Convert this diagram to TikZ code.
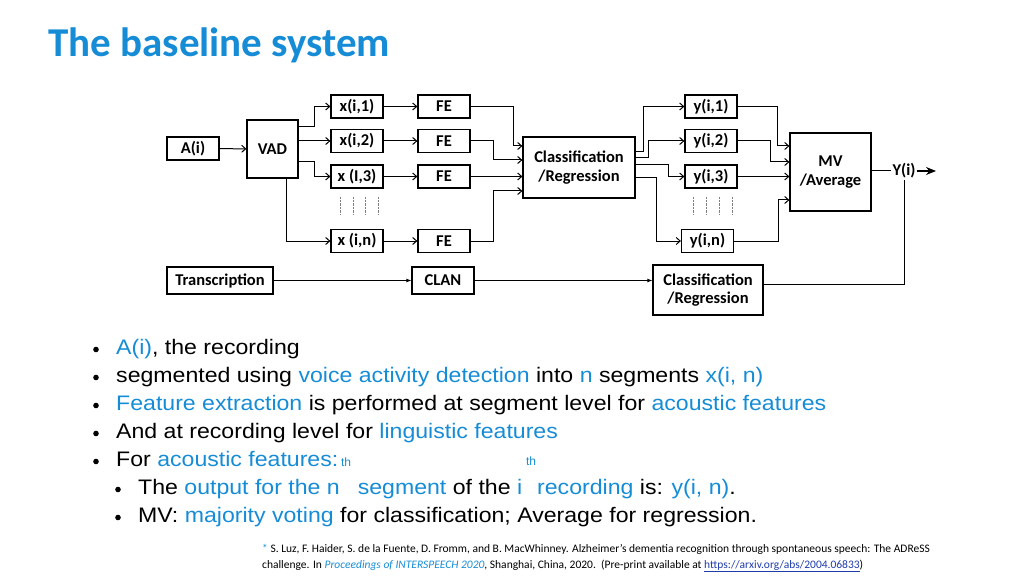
\documentclass[tikz,border=0pt]{standalone}
\usepackage{fontspec}
\setmainfont{Liberation Sans}
\newfontfamily\calfont{Carlito}
\newfontfamily\bulfont[FakeStretch=1.1]{Liberation Sans}
\usepackage{xcolor}
\usepackage{tikz}
\usetikzlibrary{arrows.meta,positioning,calc}
\definecolor{slideblue}{RGB}{22,140,214}
\definecolor{linkblue}{RGB}{30,60,170}
\newcommand{\hl}[1]{\textcolor{slideblue}{#1}}

\begin{document}
\begin{tikzpicture}[x=1pt,y=-1pt,
    blk/.style={draw, line width=1.2pt, inner sep=1pt, align=center,
      font=\calfont\bfseries\fontsize{16.5}{18.5}\selectfont},
    seg/.style={blk, minimum width=52pt, minimum height=23pt},
    arr/.style={line width=1pt, -{Straight Barb[length=4pt,width=7pt]}},
    farr/.style={line width=1pt, -{Latex[length=5pt,width=4pt]}},
    ln/.style={line width=1pt},
    bul/.style={anchor=base west, inner sep=0pt, font=\bulfont\fontsize{21}{24}\selectfont}]

    \useasboundingbox (0,0) rectangle (1024,577);

    % Title
    \node[anchor=base west, inner sep=0pt, text=slideblue,
      font=\calfont\bfseries\fontsize{41}{45}\selectfont] (title) at (48,57) {The baseline system};

    % Input and VAD
    \node[blk, minimum width=52pt, minimum height=23pt] (ai) at (193,148.5) {A(i)};
    \node[blk, minimum width=51pt, minimum height=58pt] (vad) at (272.5,149) {VAD};
    \draw[arr] (ai) -- (vad);

    % Segments and feature extraction
    \foreach \n/\t/\y in {1/{x(i,1)}/106.5, 2/{x(i,2)}/141, 3/{x (I,3)}/176.5, n/{x (i,n)}/241}{
        \node[seg] (x\n) at (357,\y) {\t};
        \node[seg] (fe\n) at (444,\y) {FE};
        \draw[arr] (x\n) -- (fe\n);
    }
    \foreach \x in {340,353,365,378} \draw[densely dotted, gray] (\x,197) -- (\x,215);

    \draw[arr] ([yshift=22pt]vad.east) -- ++(16,0) |- (x1);
    \draw[arr] (x2 -| vad.east) -- (x2);
    \draw[arr] ([yshift=-13pt]vad.east) -- ++(16,0) |- (x3);
    \draw[arr] ([xshift=13.5pt]vad.south) |- (xn);

    % Classifier
    \node[blk, minimum width=112pt, minimum height=61pt] (cr) at (579,167.5) {Classification\\/Regression};
    \draw[arr] (fe1.east) -- ++(43,0) |- ([yshift=21.5pt]cr.west);
    \draw[arr] (fe2.east) -- ++(23,0) |- ([yshift=7.5pt]cr.west);
    \draw[arr] (fe3.east) -- (fe3.east -| cr.west);
    \draw[arr] (fen.east) -- ++(23,0) |- ([yshift=-23.5pt]cr.west);

    % Segment outputs
    \foreach \n/\t/\x/\y in {1/{y(i,1)}/711/106.5, 2/{y(i,2)}/711/141, 3/{y(i,3)}/711/176.5, n/{y(i,n)}/707.5/241}
        \node[seg] (y\n) at (\x,\y) {\t};
    \foreach \x in {693,706,719,732} \draw[densely dotted, gray] (\x,197) -- (\x,215);

    \draw[arr] ([yshift=15.5pt]cr.east) -- ++(8,0) |- (y1);
    \draw[arr] ([yshift=9.5pt]cr.east) -- ++(13,0) |- (y2);
    \draw[arr] ([yshift=2.5pt]cr.east) -- ++(33,0) |- (y3);
    \draw[arr] ([yshift=-10.5pt]cr.east) -- ++(21,0) |- (yn);

    % MV / Average
    \node[blk, minimum width=81pt, minimum height=78pt] (mv) at (830.5,172) {MV\\/Average};
    \draw[arr] (y1.east) -- ++(40,0) |- ([yshift=26pt]mv.west);
    \draw[arr] (y2.east) -- ++(33,0) |- ([yshift=10pt]mv.west);
    \draw[arr] (y3.east) -- (y3.east -| mv.west);
    \draw[arr] (yn.east) -- ++(44,0) |- ([yshift=-28pt]mv.west);

    \node[inner sep=1pt, font=\calfont\bfseries\fontsize{16.5}{18}\selectfont] (yout) at (904,171) {Y(i)};
    \coordinate (yend) at (936,171);
    \draw[ln] (mv.east |- yout) -- (yout.west);
    \draw[line width=1.2pt, -{Stealth[length=10pt,width=8pt]}] (yout.east) -- (yend);

    % Linguistic branch
    \node[blk, minimum width=106pt, minimum height=27pt] (trans) at (220,280.5) {Transcription};
    \node[blk, minimum width=62pt, minimum height=27pt] (clan) at (443,280.5) {CLAN};
    \node[blk, minimum width=110pt, minimum height=50pt] (cr2) at (708,290) {Classification\\/Regression};
    \draw[farr] (trans) -- (clan);
    \draw[farr] (clan.east) -- (clan.east -| cr2.west);
    \draw[ln] ([yshift=6pt]cr2.east) -| (yout.south);

    % Bullets
    \node[bul] (b1) at (116,354) {\hl{A(i)}, the recording};
    \node[bul] (b2) at (116,382) {segmented using \hl{voice activity detection} into \hl{n} segments \hl{x(i, n)}};
    \node[bul] (b3) at (116,410) {\hl{Feature extraction} is performed at segment level for \hl{acoustic features}};
    \node[bul] (b4) at (116,438) {And at recording level for \hl{linguistic features}};
    \node[bul] (b5) at (116,466) {For \hl{acoustic features:}};
    \node[bul] (b6) at (138,494) {The \hl{output for the n\hspace{18pt}segment} of the \hl{i\hspace{15pt}recording} is: \hl{y(i, n)}.};
    \node[bul] (b7) at (138,522) {MV: \hl{majority voting} for classification; Average for regression.};
    \foreach \b in {b1,b2,b3,b4,b5} \fill ([xshift=-20pt,yshift=4.5pt]\b.base west) circle (2.8pt);
    \foreach \b in {b6,b7} \fill ([xshift=-20pt,yshift=4.5pt]\b.base west) circle (2.8pt);
    \node[font=\fontsize{12}{13}\selectfont, text=slideblue, inner sep=0pt] (th1) at (346,462) {th};
    \node[font=\fontsize{12}{13}\selectfont, text=slideblue, inner sep=0pt] (th2) at (531,461) {th};

    % Reference
    \node[anchor=base west, inner sep=0pt, font=\calfont\fontsize{11.5}{14}\selectfont] (ref1) at (262,552)
      {\hl{*} S. Luz, F. Haider, S. de la Fuente, D. Fromm, and B. MacWhinney. Alzheimer’s dementia recognition through spontaneous speech: The ADReSS};
    \node[anchor=base west, inner sep=0pt, font=\calfont\fontsize{11.5}{14}\selectfont] (ref2) at (262,568)
      {challenge. In \hl{\itshape Proceedings of INTERSPEECH 2020}, Shanghai, China, 2020.\ \ (Pre-print available at \textcolor{linkblue}{\underline{https://arxiv.org/abs/2004.06833}})};
\end{tikzpicture}
\end{document}
